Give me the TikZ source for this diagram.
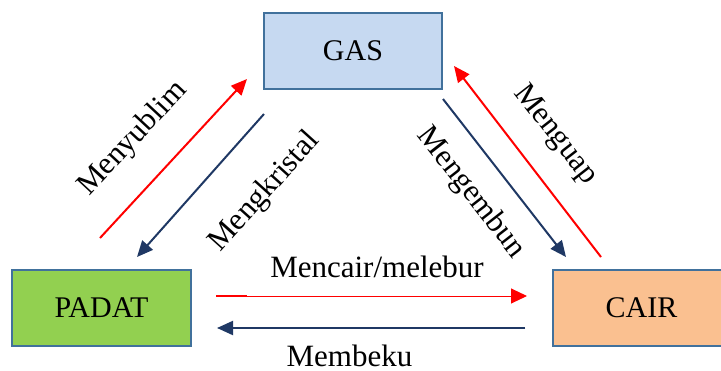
\documentclass[tikz,border=0pt]{standalone}
\usepackage{fontspec}
\setmainfont{Liberation Serif}
\usetikzlibrary{arrows.meta}
\definecolor{gasfill}{HTML}{C6D9F1}
\definecolor{boxline}{HTML}{41719C}
\definecolor{padatfill}{HTML}{92D050}
\definecolor{cairfill}{HTML}{FAC090}
\definecolor{navy}{HTML}{1F3864}
\begin{document}
\begin{tikzpicture}[x=1pt,y=-1pt,
  statebox/.style={draw=boxline, line width=2pt, minimum height=76pt, inner sep=0pt, font=\fontsize{30}{36}\selectfont},
  lbl/.style={inner sep=0pt, font=\fontsize{31}{37}\selectfont},
  arr/.style={-{Triangle[length=16pt,width=14pt]}, line width=2pt},
  redarr/.style={arr, draw=red, fill=red},
  navyarr/.style={arr, draw=navy, fill=navy}]
\useasboundingbox (0,0) rectangle (721,370);
\node[statebox, fill=gasfill, minimum width=178pt] (gas) at (353,51) {GAS};
\node[statebox, fill=padatfill, minimum width=179pt] (padat) at (101.5,308) {PADAT};
\node[statebox, fill=cairfill, minimum width=177pt] (cair) at (641.5,308) {CAIR};
% endpoints
\coordinate (m1s) at (100,238); \coordinate (m1e) at (247,79);
\coordinate (k1s) at (264,114); \coordinate (k1e) at (137,257);
\coordinate (e1s) at (443,99);  \coordinate (e1e) at (566,257);
\coordinate (u1s) at (601,257); \coordinate (u1e) at (454,66);
\coordinate (c1s) at (216,296); \coordinate (c1m) at (247,296); \coordinate (c1e) at (527,296);
\coordinate (b1s) at (525,328); \coordinate (b1e) at (217,328);
\draw[redarr] (m1s) -- (m1e);
\draw[navyarr] (k1s) -- (k1e);
\draw[navyarr] (e1s) -- (e1e);
\draw[redarr] (u1s) -- (u1e);
\draw[redarr, line width=1pt, -{Triangle[length=16pt,width=15pt]}] (c1s) -- (c1e);
\draw[red, line width=2.5pt] (c1s) -- (c1m);
\draw[navyarr] (b1s) -- (b1e);
% labels
\node[lbl, rotate=47] (lmenyublim) at (133,139) {Menyublim};
\node[lbl, rotate=48] (lmengkristal) at (265,192) {Mengkristal};
\node[lbl, rotate=-52] (lmengembun) at (471,193) {Mengembun};
\node[lbl, rotate=-52] (lmenguap) at (555,135) {Menguap};
\node[lbl, anchor=base] (lmencair) at (377,277) {Mencair/melebur};
\node[lbl, anchor=base] (lmembeku) at (349.5,366) {Membeku};
\end{tikzpicture}
\end{document}
